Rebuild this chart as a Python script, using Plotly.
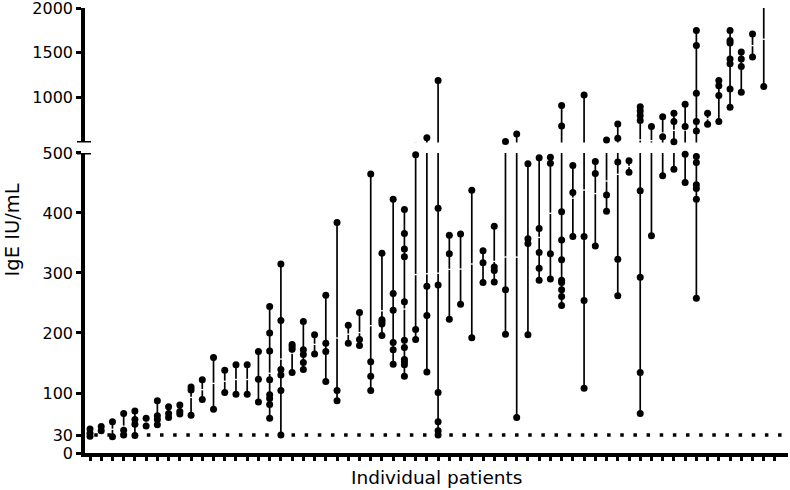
import numpy as np
import plotly.graph_objects as go

# ---------------- data ----------------
patient_ids = list(range(1, 62))
ige_values = [
    [40, 33, 28],
    [44, 37],
    [52, 27],
    [66, 38, 30],
    [70, 56, 48, 29],
    [58, 45],
    [87, 62, 56, 47],
    [77, 66, 59],
    [80, 69, 65],
    [110, 105, 63],
    [122, 89],
    [159, 73],
    [138, 101],
    [147, 98],
    [147, 98],
    [169, 123, 85],
    [244, 200, 170, 122, 97, 91, 81, 58],
    [315, 221, 139, 130, 104, 30],
    [181, 177, 173, 134],
    [219, 172, 164, 151, 139],
    [197, 165],
    [263, 183, 169, 119],
    [384, 104, 87],
    [213, 183],
    [234, 189, 179],
    [465, 152, 128, 104],
    [333, 222, 219, 215, 196],
    [423, 266, 238, 184, 172, 148],
    [406, 366, 340, 327, 252, 188, 176, 156, 152, 147, 128],
    [497, 206, 189],
    [553, 278, 229, 135],
    [1190, 408, 280, 101, 52, 37, 30],
    [363, 332, 223],
    [365, 248],
    [438, 192],
    [337, 317, 284],
    [378, 310, 304, 285],
    [510, 272, 198],
    [594, 59],
    [482, 357, 349, 197],
    [492, 374, 334, 308, 288],
    [493, 483, 332, 290],
    [911, 683, 402, 355, 322, 288, 284, 272, 261, 246],
    [479, 434, 361],
    [1030, 361, 254, 108],
    [486, 466, 345],
    [527, 430, 403],
    [706, 546, 485, 323, 262],
    [487, 468],
    [899, 851, 799, 743, 437, 293, 134, 66],
    [676, 362],
    [787, 564, 462],
    [825, 732, 508, 473],
    [926, 676, 498, 451],
    [1749, 1582, 1049, 732, 627, 494, 484, 447, 441, 423, 258],
    [825, 702],
    [1190, 1131, 1022, 732],
    [1749, 1638, 1608, 1430, 1377, 1097, 892],
    [1508, 1430, 1347, 1060],
    [1709, 1452],
    [2180, 1123],
]
x_tick_count = 62
detection_limit = 30
lower_ticks = [0, 30, 100, 200, 300, 400, 500]
upper_ticks = [1000, 1500, 2000]
break_value = 500
y_top = 2000
x_title = "Individual patients"
y_title = "IgE IU/mL"

FONT = "DejaVu Sans"
x_range = [0.555, 63.16]

fig = go.Figure()

# limit-of-detection dotted line
fig.add_trace(go.Scatter(
    x=[1.38, x_range[1]], y=[detection_limit, detection_limit],
    mode="lines", line=dict(color="black", width=3.5, dash="3.5px,9.65px"),
    xaxis="x", yaxis="y", hoverinfo="skip", showlegend=False))


def segment(lo, hi, yaxis, include_lo):
    lx, ly, mx, my, ax, ay = [], [], [], [], [], []
    for pid, vals in zip(patient_ids, ige_values):
        lx += [pid, pid, None]
        ly += [min(vals), max(vals), None]
        for v in vals:
            inside = (lo <= v if include_lo else lo < v) and v <= hi
            if inside:
                mx.append(pid)
                my.append(v)
        m = float(np.mean(vals))
        inside = (lo <= m if include_lo else lo < m) and m <= hi
        if inside and len(vals) > 1:
            ax.append(pid)
            ay.append(m)
    fig.add_trace(go.Scatter(x=lx, y=ly, mode="lines",
                             line=dict(color="black", width=1.7),
                             xaxis="x", yaxis=yaxis, showlegend=False,
                             hoverinfo="skip"))
    fig.add_trace(go.Scatter(x=ax, y=ay, mode="markers",
                             marker=dict(symbol="line-ew", size=6,
                                         line=dict(color="white", width=1.3)),
                             xaxis="x", yaxis=yaxis, showlegend=False,
                             cliponaxis=False))
    fig.add_trace(go.Scatter(x=mx, y=my, mode="markers",
                             marker=dict(color="black", size=7),
                             xaxis="x", yaxis=yaxis, showlegend=False,
                             cliponaxis=False))


segment(0, break_value, "y", True)
segment(break_value, y_top, "y2", False)

axis_common = dict(showline=True, linewidth=3.5, linecolor="black",
                   ticks="outside", tickwidth=3, tickcolor="black",
                   showgrid=False, zeroline=False, automargin=False,
                   ticklabeloverflow="allow",
                   tickfont=dict(family=FONT, size=16, color="black"))

fig.update_layout(
    width=790, height=490,
    margin=dict(l=85, r=2, t=8, b=37),
    paper_bgcolor="white", plot_bgcolor="white",
    showlegend=False,
    xaxis=dict(range=x_range, tickvals=list(range(1, x_tick_count + 1)),
               showticklabels=False, ticklen=4, anchor="y",
               **{k: v for k, v in axis_common.items() if k != "tickfont"}),
    yaxis=dict(domain=[0, 0.6742], range=[0, break_value],
               tickvals=lower_ticks, ticklen=5, anchor="x", **axis_common),
    yaxis2=dict(domain=[0.698, 1], range=[break_value, y_top],
                tickvals=upper_ticks, ticklen=5, anchor="x", **axis_common),
    shapes=[
        dict(type="line", xref="paper", xsizemode="pixel", xanchor=0,
             x0=-8, x1=6, yref="y", y0=break_value, y1=break_value,
             line=dict(color="black", width=3)),
        dict(type="line", xref="paper", xsizemode="pixel", xanchor=0,
             x0=-8, x1=6, yref="y2", y0=break_value, y1=break_value,
             line=dict(color="black", width=3)),
    ],
    annotations=[
        dict(text=x_title, xref="paper", yref="paper", x=0.5, y=0,
             yshift=-24, xanchor="center", yanchor="middle", showarrow=False,
             font=dict(family=FONT, size=18.5, color="black")),
        dict(text=y_title, xref="paper", yref="paper", x=0, y=0.5,
             xshift=-73, xanchor="center", yanchor="middle", showarrow=False,
             textangle=-90,
             font=dict(family=FONT, size=19.5, color="black")),
    ],
)

fig.write_html("out.html",
               config={"displayModeBar": False},
               post_script="document.body.style.margin='0px';")
